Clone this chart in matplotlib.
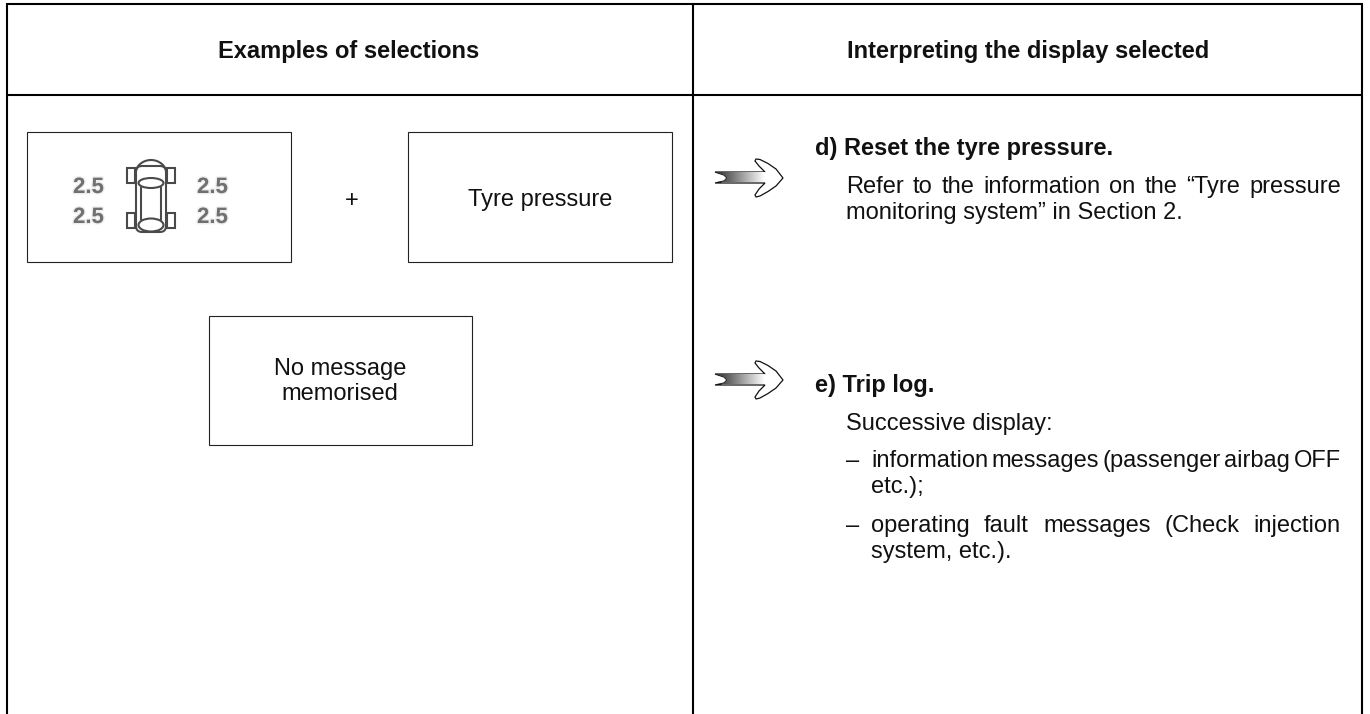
#!/usr/bin/env python3

import matplotlib
matplotlib.use('Agg')
import matplotlib.pyplot as plt
import matplotlib.patheffects as pe
import numpy as np
from matplotlib.patches import Arc, Ellipse, FancyBboxPatch, Polygon, Rectangle

plt.rcParams['font.family'] = ['Liberation Sans', 'DejaVu Sans']

headers = ['Examples of selections', 'Interpreting the display selected']
box_labels = ['Tyre pressure', 'No message\nmemorised']
pressures = ['2.5', '2.5', '2.5', '2.5']
section_d_title = 'd) Reset the tyre pressure.'
section_d_lines = ['Refer to the information on the “Tyre pressure', 'monitoring system” in Section 2.']
section_e_title = 'e) Trip log.'
section_e_intro = 'Successive display:'
bullet_one = ['information messages (passenger airbag OFF', 'etc.);']
bullet_two = ['operating fault messages (Check injection', 'system, etc.).']

FS = 17.0

fig = plt.figure(figsize=(13.7, 7.14), dpi=100)
ax = fig.add_axes([0, 0, 1, 1])
ax.set_xlim(0, 1370)
ax.set_ylim(714, 0)
ax.axis('off')


def frame_line(xs, ys, lw=1.5):
    ax.plot(xs, ys, color='black', lw=lw, solid_capstyle='butt')


def box(x0, y0, x1, y1):
    ax.add_patch(Rectangle((x0, y0), x1 - x0, y1 - y0, fill=False, ec='#222222', lw=0.8))


def write(x, y, s, **kw):
    kw.setdefault('fontsize', FS)
    kw.setdefault('color', '#111111')
    kw.setdefault('va', 'baseline')
    return ax.text(x, y, s, **kw)


def justified(x0, x1, y, s):
    # stretch the gaps between words so the line fills x0..x1
    words = s.split(' ')
    r = fig.canvas.get_renderer()
    items = [write(x0, y, w) for w in words]
    widths = [t.get_window_extent(r).width for t in items]
    gap = (x1 - x0 - sum(widths)) / (len(words) - 1)
    x = x0
    for t, w in zip(items, widths):
        t.set_x(x)
        x += w + gap


def arrow(x, y):
    # outline points are px offsets from the arrow tail
    pts = np.array([(0, -6), (50, -6), (44, -12), (40, -17), (41, -19), (45, -18.5), (53, -14.5),
                    (61, -9), (68, 0), (61, 8), (53, 13.5), (45, 18), (41, 19), (40, 17),
                    (44, 11), (50, 5), (0, 5), (9, 3), (12, 0), (9, -3)],
                   dtype=float) + [x, y]
    ax.add_patch(Polygon(pts, closed=True, fc='white', ec='#111111', lw=0.9, zorder=3))
    grad = np.linspace(0.2, 1, 64).reshape(1, -1)
    im = ax.imshow(grad, cmap='gray', vmin=0, vmax=1, aspect='auto', zorder=4,
                   extent=[x + 2, x + 50, y + 4.5, y - 5])
    im.set_clip_path(Polygon(pts, closed=True, transform=ax.transData))


def car(cx):
    c = '#4a4a4a'
    lw = 1.5
    ax.add_patch(FancyBboxPatch((cx - 15, 166), 30, 66, boxstyle='round,pad=0,rounding_size=6',
                                fill=False, ec=c, lw=lw))
    ax.add_patch(Arc((cx, 175), 32, 30, theta1=180, theta2=360, ec=c, lw=lw))
    ax.add_patch(Ellipse((cx, 183), 25, 10, fill=False, ec=c, lw=lw))
    ax.add_patch(Ellipse((cx, 225), 25, 13, fill=False, ec=c, lw=lw))
    ax.plot([cx - 10, cx - 10], [188, 219], color=c, lw=lw)
    ax.plot([cx + 10, cx + 10], [188, 219], color=c, lw=lw)
    for wx in (cx - 24, cx + 16):
        for wy in (168, 213):
            ax.add_patch(Rectangle((wx, wy), 8, 15, fill=False, ec=c, lw=lw))


# outer frame
frame_line([7.5, 1362.5], [4.3, 4.3])
frame_line([7.5, 7.5], [3, 714])
frame_line([1362.5, 1362.5], [3, 714])
frame_line([693, 693], [3, 714])
frame_line([7, 1363], [95, 95])

write(349, 58, headers[0], fontweight='bold', ha='center')
write(1028, 58, headers[1], fontweight='bold', ha='center')

# left column
box(27, 132, 291, 262)
box(408, 132, 672, 262)
box(209, 316, 472, 445)
car(151)
pos = [(73, 193), (73, 223), (197, 193), (197, 223)]
for (px, py), p in zip(pos, pressures):
    t = write(px, py, p, fontsize=16, color='#707070', ha='left', fontweight='bold')
    t.set_path_effects([pe.withStroke(linewidth=2, foreground='#cccccc', alpha=0.35)])
write(352, 207, '+', ha='center')
write(540, 206, box_labels[0], ha='center')
write(340, 375, box_labels[1].split('\n')[0], ha='center')
write(340, 399.5, box_labels[1].split('\n')[1], ha='center')

# right column
arrow(715, 178)
arrow(715, 380)

write(815, 154.5, section_d_title, fontweight='bold')
justified(846, 1341, 193, section_d_lines[0])
write(846, 219, section_d_lines[1])

write(815, 392, section_e_title, fontweight='bold')
write(846, 430, section_e_intro)
write(846, 467, '–')
justified(871, 1341, 467, bullet_one[0])
write(871, 493, bullet_one[1])
write(846, 532, '–')
justified(871, 1341, 532, bullet_two[0])
write(871, 558, bullet_two[1])

fig.savefig('out.png', dpi=100)
